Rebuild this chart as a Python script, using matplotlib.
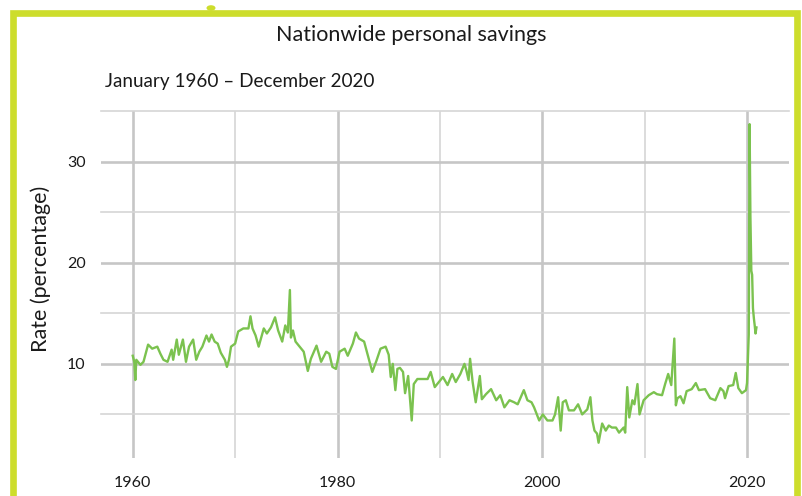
import matplotlib
matplotlib.use('Agg')
import matplotlib.pyplot as plt
from matplotlib.patches import Rectangle, Circle
import numpy as np

# Values (decimal year, savings rate in %)
years = [
    1960.00, 1960.15, 1960.25, 1960.35, 1960.75, 1961.05, 1961.50, 1961.90,
    1962.40, 1962.70, 1963.00, 1963.40, 1963.80, 1963.95, 1964.30, 1964.50,
    1964.90, 1965.20, 1965.50, 1965.90, 1966.20, 1966.50, 1966.80, 1967.20,
    1967.45, 1967.70, 1968.00, 1968.30, 1968.60, 1969.00, 1969.20, 1969.40,
    1969.60, 1970.00, 1970.30, 1970.80, 1971.30, 1971.50, 1971.70, 1972.00,
    1972.30, 1972.80, 1973.10, 1973.50, 1973.90, 1974.20, 1974.60, 1974.90,
    1975.15, 1975.35, 1975.45, 1975.65, 1975.90, 1976.30, 1976.70, 1977.10,
    1977.40, 1977.95, 1978.40, 1978.90, 1979.20, 1979.50, 1979.85, 1980.20,
    1980.70, 1981.00, 1981.50, 1981.80, 1982.10, 1982.60, 1983.00, 1983.40,
    1983.80, 1984.20, 1984.70, 1985.00, 1985.20, 1985.40, 1985.65, 1985.85,
    1986.10, 1986.40, 1986.60, 1986.90, 1987.25, 1987.45, 1987.80, 1988.40,
    1988.80, 1989.10, 1989.50, 1989.90, 1990.30, 1990.75, 1991.20, 1991.55,
    1992.00, 1992.40, 1992.60, 1992.80, 1992.95, 1993.20, 1993.50, 1993.90,
    1994.10, 1994.50, 1995.00, 1995.50, 1995.90, 1996.30, 1996.80, 1997.25,
    1997.60, 1998.20, 1998.55, 1998.95, 1999.20, 1999.70, 2000.05, 2000.50,
    2001.00, 2001.25, 2001.55, 2001.80, 2002.00, 2002.30, 2002.60, 2003.10,
    2003.50, 2003.90, 2004.40, 2004.70, 2004.90, 2005.10, 2005.35, 2005.50,
    2005.85, 2006.20, 2006.50, 2006.80, 2007.20, 2007.50, 2007.95, 2008.10,
    2008.30, 2008.50, 2008.80, 2009.00, 2009.30, 2009.50, 2009.90, 2010.40,
    2010.90, 2011.20, 2011.70, 2012.00, 2012.30, 2012.60, 2012.90, 2013.05,
    2013.20, 2013.50, 2013.80, 2014.10, 2014.60, 2015.00, 2015.30, 2015.90,
    2016.40, 2016.90, 2017.40, 2017.70, 2017.85, 2018.20, 2018.65, 2018.90,
    2019.15, 2019.50, 2019.90, 2020.00, 2020.17, 2020.25, 2020.33, 2020.42,
    2020.50, 2020.58, 2020.67, 2020.75, 2020.83, 2020.92,
]
rate = [
    10.8, 10.2, 8.4, 10.4, 9.9, 10.2, 11.9, 11.5,
    11.7, 11.0, 10.4, 10.2, 11.4, 10.4, 12.4, 10.9,
    12.4, 10.2, 11.7, 12.4, 10.4, 11.2, 11.7, 12.8,
    12.2, 12.9, 12.2, 12.0, 11.1, 10.4, 9.7, 10.4,
    11.7, 12.0, 13.2, 13.5, 13.5, 14.7, 13.5, 12.8,
    11.7, 13.5, 13.0, 13.6, 14.6, 13.3, 12.2, 13.8,
    13.1, 17.3, 12.6, 13.3, 12.2, 11.7, 11.2, 9.3,
    10.5, 11.8, 10.2, 11.2, 11.0, 9.7, 9.5, 11.2,
    11.5, 10.8, 12.0, 13.1, 12.5, 12.2, 10.7, 9.2,
    10.3, 11.5, 11.7, 10.9, 8.7, 10.0, 7.4, 9.5,
    9.6, 9.2, 7.1, 8.8, 4.4, 8.0, 8.5, 8.5,
    8.5, 9.2, 7.7, 8.2, 8.7, 7.9, 9.0, 8.2,
    9.0, 10.0, 9.3, 8.4, 10.5, 8.2, 6.2, 8.8,
    6.5, 7.0, 7.5, 6.4, 6.9, 5.7, 6.4, 6.2,
    6.0, 7.4, 6.4, 6.2, 5.7, 4.4, 5.0, 4.4,
    4.4, 5.0, 6.7, 3.4, 6.2, 6.4, 5.4, 5.4,
    6.0, 5.0, 5.5, 6.7, 4.4, 3.4, 3.1, 2.2,
    4.1, 3.4, 3.9, 3.7, 3.7, 3.2, 3.7, 3.2,
    7.7, 4.7, 6.4, 6.0, 8.0, 5.0, 6.4, 6.9,
    7.2, 7.0, 6.9, 8.0, 9.0, 7.9, 12.5, 5.9,
    6.6, 6.8, 6.1, 7.3, 7.5, 8.1, 7.4, 7.5,
    6.6, 6.4, 7.6, 7.3, 6.6, 7.8, 7.9, 9.1,
    7.6, 7.1, 7.4, 8.1, 12.9, 33.7, 24.6, 19.2,
    18.8, 15.5, 14.5, 13.8, 13.0, 13.6,
]

x_major = [1960, 1980, 2000, 2020]
x_minor = [1970, 1990, 2010]
y_major = [10, 20, 30]
y_minor = [5, 15, 25, 35]

title = 'Nationwide personal savings'
subtitle = 'January 1960 \u2013 December 2020'
ylabel = 'Rate (percentage)'

LINE_COLOR = '#7bc24f'
FRAME_COLOR = '#cddd2c'
TEXT_COLOR = '#1a1a1a'


def plot_savings():
    plt.rcParams['font.family'] = ['Lato', 'DejaVu Sans']
    W, H = 802, 496
    fig = plt.figure(figsize=(W / 100, H / 100), dpi=100)

    # yellow-green frame around the card, bottom edge is cut off
    fig.patches.append(Rectangle((13 / W, -0.05), (797 - 13) / W, 1.05 - 13 / H,
                                 transform=fig.transFigure, fill=False,
                                 edgecolor=FRAME_COLOR, linewidth=4.8))
    fig.patches.append(Circle((211 / W, 1 - 8 / H), 4.5 / W, transform=fig.transFigure,
                              facecolor=FRAME_COLOR, edgecolor='none'))

    ax = fig.add_axes([101 / W, 1 - 458 / H, (789 - 101) / W, (458 - 111) / H])
    ax.set_xlim(1956.9, 2024.1)
    ax.set_ylim(0.69, 35)

    # grid: thick at labelled ticks, thin in between
    for x in x_major:
        ax.axvline(x, color='#c6c6c6', linewidth=1.9, zorder=1)
    for x in x_minor:
        ax.axvline(x, color='#d6d6d6', linewidth=1.2, zorder=1)
    for y in y_major:
        ax.axhline(y, color='#c6c6c6', linewidth=1.9, zorder=1)
    for y in y_minor:
        ax.axhline(y, color='#d6d6d6', linewidth=1.2, zorder=1, clip_on=False)

    ax.plot(years, rate, color=LINE_COLOR, linewidth=1.7, zorder=3,
            solid_joinstyle='round')

    for s in ax.spines.values():
        s.set_visible(False)
    ax.set_xticks(x_major)
    ax.set_yticks(y_major)
    ax.tick_params(length=0, labelsize=11.5, colors=TEXT_COLOR)
    ax.tick_params(axis='x', pad=13)
    ax.tick_params(axis='y', pad=11)

    ax.set_ylabel(ylabel, fontsize=15.5, color=TEXT_COLOR)
    ax.yaxis.set_label_coords(-0.072, 0.545)

    fig.text(411 / W, 1 - 35 / H, title, ha='center', va='center',
             fontsize=15.5, color=TEXT_COLOR)
    fig.text(105 / W, 1 - 82 / H, subtitle, ha='left', va='center',
             fontsize=13.6, color=TEXT_COLOR)

    plt.savefig('out.png', dpi=100)


if __name__ == '__main__':
    plot_savings()
